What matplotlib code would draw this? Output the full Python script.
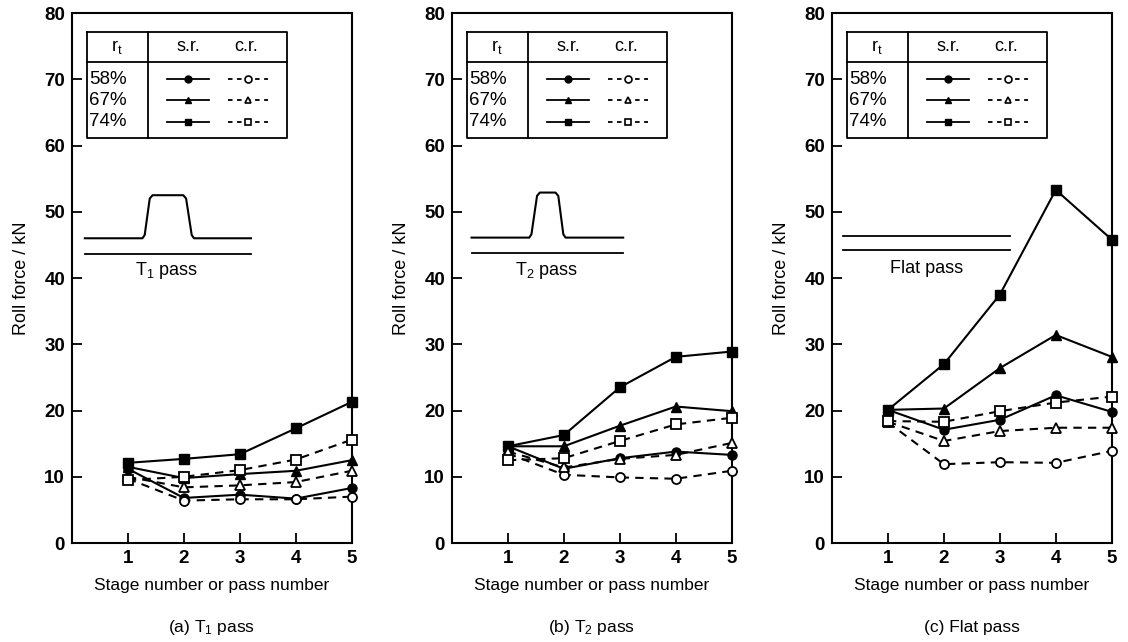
import matplotlib
matplotlib.use('Agg')
import matplotlib.pyplot as plt

plt.rcParams['font.family'] = ['Liberation Sans', 'DejaVu Sans']
plt.rcParams['mathtext.fontset'] = 'custom'
plt.rcParams['mathtext.rm'] = 'Liberation Sans'
plt.rcParams['mathtext.it'] = 'Liberation Sans'
plt.rcParams['mathtext.bf'] = 'Liberation Sans:bold'

# --- data ---
stages = [1, 2, 3, 4, 5]
ratios = ['58%', '67%', '74%']

# (a) T1 pass
a_sr_58 = [11.2, 6.8, 7.3, 6.7, 8.3]
a_sr_67 = [11.5, 9.8, 10.4, 10.9, 12.5]
a_sr_74 = [12.1, 12.7, 13.4, 17.3, 21.3]
a_cr_58 = [9.7, 6.4, 6.6, 6.6, 7.0]
a_cr_67 = [10.0, 8.4, 8.7, 9.2, 10.9]
a_cr_74 = [9.5, 10.0, 11.0, 12.6, 15.6]

# (b) T2 pass
b_sr_58 = [14.6, 11.2, 12.8, 13.8, 13.3]
b_sr_67 = [14.6, 14.6, 17.7, 20.6, 19.9]
b_sr_74 = [14.6, 16.3, 23.5, 28.1, 28.9]
b_cr_58 = [13.5, 10.3, 9.9, 9.7, 10.9]
b_cr_67 = [13.8, 11.4, 12.7, 13.3, 15.1]
b_cr_74 = [12.5, 12.8, 15.4, 17.9, 18.9]

# (c) Flat pass
c_sr_58 = [20.1, 17.1, 18.6, 22.3, 19.8]
c_sr_67 = [20.1, 20.3, 26.4, 31.4, 28.1]
c_sr_74 = [20.1, 27.0, 37.5, 53.3, 45.8]
c_cr_58 = [18.2, 11.9, 12.2, 12.1, 13.9]
c_cr_67 = [18.3, 15.4, 16.9, 17.4, 17.4]
c_cr_74 = [18.4, 18.3, 19.9, 21.2, 22.1]

markers = ['o', '^', 's']
FS = 12.5


def profile_line(ax, x0, x1, y, bump=None):
    # sketch of the roll groove; bump = (base_l, top_l, top_r, base_r, top)
    if bump is None:
        ax.plot([x0, x1], [y, y], color='k', lw=1.3)
        return
    bl, tl, tr, br, top = bump
    xs = [x0, bl - 0.04, bl, tl, tl + 0.05, tr - 0.05, tr, br, br + 0.04, x1]
    ys = [y, y, y + 0.5, top - 0.5, top, top, top - 0.5, y + 0.5, y, y]
    ax.plot(xs, ys, color='k', lw=1.5, solid_joinstyle='round')


def draw_table(ax):
    left, mid, right = 0.27, 1.36, 3.85
    top, head, bottom = 77.1, 72.6, 61.2
    kw = dict(color='k', lw=1.3, clip_on=False)
    ax.plot([left, right, right, left, left], [top, top, bottom, bottom, top], **kw)
    ax.plot([left, right], [head, head], **kw)
    ax.plot([mid, mid], [top, bottom], **kw)
    ax.text(0.8, 74.9, r'r$_\mathregular{t}$', ha='center', va='center', fontsize=13)
    ax.text(2.08, 74.9, 's.r.', ha='center', va='center', fontsize=13)
    ax.text(3.12, 74.9, 'c.r.', ha='center', va='center', fontsize=13)
    rows = [70.0, 66.8, 63.6]
    for lab, m, y in zip(ratios, markers, rows):
        ax.text(0.31, y, lab, ha='left', va='center', fontsize=13.5)
        ax.plot([1.7, 2.45], [y, y], '-', color='k', lw=1.3)
        ax.plot([2.07], [y], marker=m, color='k', ms=5)
        ax.plot([2.78, 3.5], [y, y], '--', color='k', lw=1.3, dashes=(2.5, 2.5))
        ax.plot([3.14], [y], marker=m, color='k', mfc='white', ms=5, mew=1.2)


def draw_panel(ax, sr, cr, label, caption, bump, ytext):
    for vals, m in zip(sr, markers):
        ax.plot(stages, vals, '-', color='k', lw=1.5, marker=m, ms=6.5,
                clip_on=False, zorder=3)
    for vals, m in zip(cr, markers):
        ax.plot(stages, vals, '--', color='k', lw=1.5, dashes=(4, 3), marker=m,
                ms=6.5, mfc='white', mew=1.3, clip_on=False, zorder=4)
    ax.set_xlim(0, 5)
    ax.set_ylim(0, 80)
    ax.set_xticks(stages)
    ax.set_yticks(range(0, 81, 10))
    ax.tick_params(direction='in', length=7, width=1.3, labelsize=13.5, pad=5)
    for t in ax.get_xticklabels() + ax.get_yticklabels():
        t.set_fontweight('bold')
    for s in ax.spines.values():
        s.set_linewidth(1.5)
    ax.set_xlabel('Stage number or pass number', fontsize=FS, labelpad=8)
    ax.set_ylabel('Roll force / kN', fontsize=13, labelpad=10)
    draw_table(ax)
    x0, x1, y_up, y_lo = bump['span']
    profile_line(ax, x0, x1, y_up, bump.get('shape'))
    profile_line(ax, x0, x1, y_lo)
    ax.text(1.69, ytext, label, ha='center', va='center', fontsize=13)
    pos = ax.get_position()
    ax.figure.text(pos.x0 + pos.width / 2, 0.023, caption, ha='center',
                   va='center', fontsize=FS)


fig = plt.figure(figsize=(11.28, 6.42), dpi=100)
lefts = [0.0638, 0.4007, 0.7376]
axs = [fig.add_axes([l, 0.1542, 0.248, 0.8255]) for l in lefts]

draw_panel(axs[0], [a_sr_58, a_sr_67, a_sr_74], [a_cr_58, a_cr_67, a_cr_74],
           r'T$_\mathregular{1}$ pass', r'(a) T$_\mathregular{1}$ pass',
           {'span': (0.23, 3.2, 46.0, 43.7),
            'shape': (1.30, 1.39, 2.04, 2.14, 52.5)}, 41.1)
draw_panel(axs[1], [b_sr_58, b_sr_67, b_sr_74], [b_cr_58, b_cr_67, b_cr_74],
           r'T$_\mathregular{2}$ pass', r'(b) T$_\mathregular{2}$ pass',
           {'span': (0.35, 3.06, 46.1, 43.8),
            'shape': (1.42, 1.52, 1.90, 1.99, 52.9)}, 41.1)
draw_panel(axs[2], [c_sr_58, c_sr_67, c_sr_74], [c_cr_58, c_cr_67, c_cr_74],
           'Flat pass', '(c) Flat pass',
           {'span': (0.2, 3.18, 46.4, 44.3)}, 41.4)

fig.savefig('out.png', dpi=100)
